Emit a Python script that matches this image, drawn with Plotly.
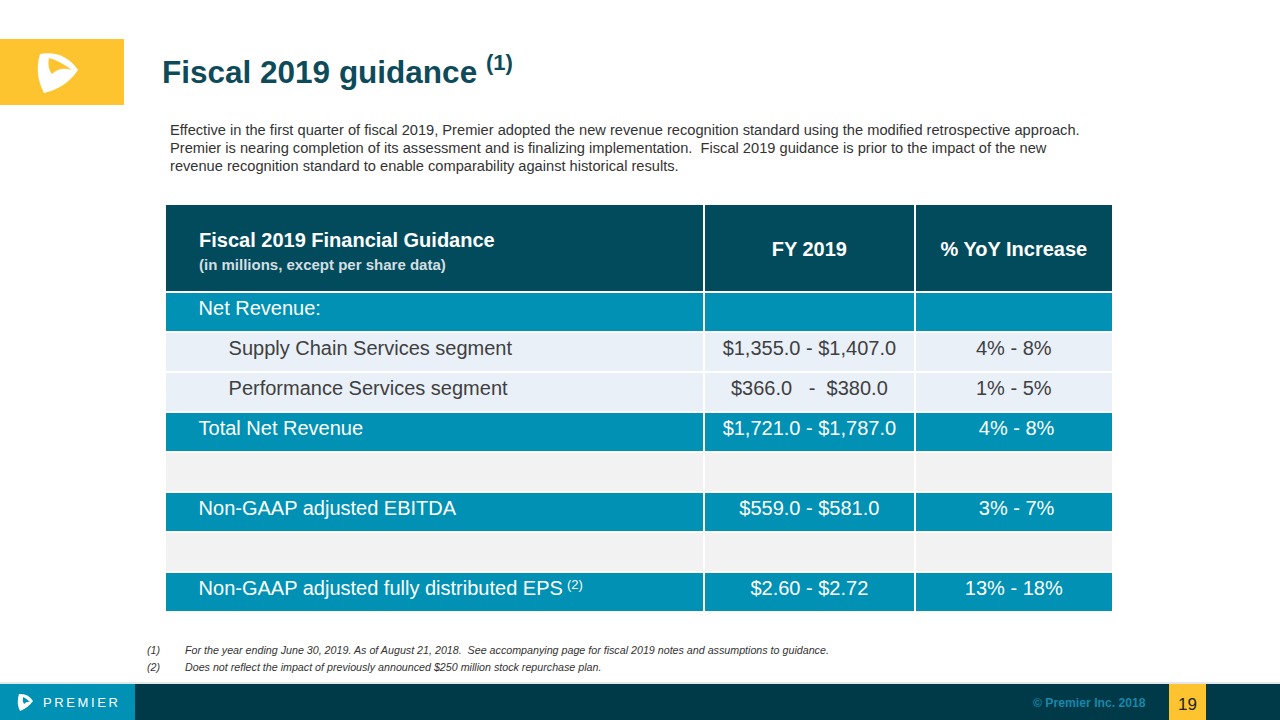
import plotly.graph_objects as go

W, H = 1280, 720

# ---------------- data ----------------
header_labels = [
    "Fiscal 2019 Financial Guidance",
    "FY 2019",
    "% YoY Increase",
]
header_sub = "(in millions, except per share data)"

row_labels = [
    "Net Revenue:",
    "Supply Chain Services segment",
    "Performance Services segment",
    "Total Net Revenue",
    "",
    "Non-GAAP adjusted EBITDA",
    "",
    "Non-GAAP adjusted fully distributed EPS",
]
row_indent = [0, 1, 1, 0, 0, 0, 0, 0]
row_note = ["", "", "", "", "", "", "", "(2)"]
fy2019_range = [
    "",
    "$1,355.0 - $1,407.0",
    "$366.0   -  $380.0",
    "$1,721.0 - $1,787.0",
    "",
    "$559.0 - $581.0",
    "",
    "$2.60 - $2.72",
]
yoy_range = ["", "4% - 8%", "1% - 5%", " 4% - 8%", "", " 3% - 7%", "", "13% - 18%"]
row_style = ["teal", "light", "light", "teal", "gray", "teal", "gray", "teal"]

title_text = "Fiscal 2019 guidance"
title_note = "(1)"
intro_lines = [
    "Effective in the first quarter of fiscal 2019, Premier adopted the new revenue recognition standard using the modified retrospective approach.",
    "Premier is nearing completion of its assessment and is finalizing implementation.  Fiscal 2019 guidance is prior to the impact of the new",
    "revenue recognition standard to enable comparability against historical results.",
]
footnote_marks = ["(1)", "(2)"]
footnotes = [
    "For the year ending June 30, 2019. As of August 21, 2018.  See accompanying page for fiscal 2019 notes and assumptions to guidance.",
    "Does not reflect the impact of previously announced $250 million stock repurchase plan.",
]
copyright_text = "© Premier Inc. 2018"
page_number = "19"
brand = "PREMIER"

# ---------------- styles ----------------
DARK = "#024B5C"
TEAL = "#0191B4"
LIGHT = "#E9F0F8"
GRAY = "#F2F2F2"
TEXT_DARK = "#3F3F3F"
TITLE = "#0E4B5A"
YELLOW = "#FDC42F"
FOOT_DARK = "#003A48"
FONT = "Liberation Sans, Arial, sans-serif"

fill_map = {"teal": TEAL, "light": LIGHT, "gray": GRAY}
font_map = {"teal": "white", "light": TEXT_DARK, "gray": TEXT_DARK}

NB = "\u00a0"


def px(x):
    return x / W


def py(y):
    return 1 - y / H


col1 = []
for lab, ind in zip(row_labels, row_indent):
    col1.append(NB * (4 if ind == 0 else 10) + "\u200a" * (2 if ind == 0 else 0) + lab if lab else "")
col2 = [v.replace(" ", NB) for v in fy2019_range]
col3 = [v.replace(" ", NB) for v in yoy_range]

fills = [fill_map[s] for s in row_style]
fcols = [font_map[s] for s in row_style]

header_vals = [
    "",
    f"{NB}<br><b>{header_labels[1]}</b>",
    f"{NB}<br><b>{header_labels[2]}</b>",
]

fig = go.Figure()
fig.add_trace(
    go.Table(
        domain=dict(x=[px(165), px(1113)], y=[py(615), py(204)]),
        columnwidth=[538, 210, 198],
        header=dict(
            values=header_vals,
            fill_color=DARK,
            line=dict(color="white", width=2),
            align=["left", "center", "center"],
            font=dict(family=FONT, size=20, color="white"),
            height=88,
        ),
        cells=dict(
            values=[col1, col2, col3],
            fill_color=[fills, fills, fills],
            line=dict(color="white", width=2),
            align=["left", "center", "center"],
            font=dict(family=FONT, size=20, color=[fcols, fcols, fcols]),
            height=40,
        ),
    )
)

shapes = []
# top-left logo box
shapes.append(dict(type="rect", xref="paper", yref="paper", x0=px(0), x1=px(124), y0=py(105), y1=py(39),
                   fillcolor=YELLOW, line=dict(width=0), layer="below"))


def path_px(points):
    p = ""
    for cmd, pts in points:
        coords = " ".join(f"{px(x):.5f},{py(y):.5f}" for x, y in pts)
        p += f"{cmd} {coords} "
    return p + "Z"


logo_outer = path_px([
    ("M", [(40, 54)]),
    ("Q", [(64, 50), (78, 70)]),
    ("Q", [(66, 88), (44, 93)]),
    ("Q", [(34, 74), (40, 54)]),
])
logo_inner = path_px([
    ("M", [(49, 58)]),
    ("Q", [(47, 68), (52, 74)]),
    ("Q", [(60, 66), (72, 70)]),
    ("Q", [(60, 61), (49, 58)]),
])
shapes.append(dict(type="path", xref="paper", yref="paper", path=logo_outer, fillcolor="white", line=dict(width=0)))
shapes.append(dict(type="path", xref="paper", yref="paper", path=logo_inner, fillcolor=YELLOW, line=dict(width=0)))

# footer
shapes.append(dict(type="line", xref="paper", yref="paper", x0=0, x1=1, y0=py(683), y1=py(683),
                   line=dict(color="#C8CED2", width=1)))
shapes.append(dict(type="rect", xref="paper", yref="paper", x0=0, x1=1, y0=py(720), y1=py(684),
                   fillcolor=FOOT_DARK, line=dict(width=0)))
shapes.append(dict(type="rect", xref="paper", yref="paper", x0=0, x1=px(135), y0=py(720), y1=py(684),
                   fillcolor=TEAL, line=dict(width=0)))
shapes.append(dict(type="rect", xref="paper", yref="paper", x0=px(1169), x1=px(1206), y0=py(720), y1=py(684),
                   fillcolor=YELLOW, line=dict(width=0)))
foot_logo = path_px([
    ("M", [(19, 694)]),
    ("Q", [(28, 693), (33, 701)]),
    ("Q", [(28, 708), (20, 711)]),
    ("Q", [(16, 703), (19, 694)]),
])
foot_inner = path_px([
    ("M", [(23, 697)]),
    ("Q", [(22, 701), (24, 704)]),
    ("Q", [(27, 701), (30, 702)]),
    ("Q", [(26, 698), (23, 697)]),
])
shapes.append(dict(type="path", xref="paper", yref="paper", path=foot_logo, fillcolor="white", line=dict(width=0)))
shapes.append(dict(type="path", xref="paper", yref="paper", path=foot_inner, fillcolor=TEAL, line=dict(width=0)))

ann = []


def text(x, y, s, size, color, anchor="left", bold=False, italic=False, yanchor="middle"):
    if bold:
        s = f"<b>{s}</b>"
    if italic:
        s = f"<i>{s}</i>"
    ann.append(dict(xref="paper", yref="paper", x=px(x), y=py(y), text=s, showarrow=False,
                    xanchor=anchor, yanchor=yanchor, font=dict(family=FONT, size=size, color=color)))


text(160, 70, f"{title_text} <sup>{title_note}</sup>", 31.5, TITLE, bold=True)
for i, line in enumerate(intro_lines):
    text(168, 130 + i * 18, line, 14.65, "#333333")
for i, (m, f) in enumerate(zip(footnote_marks, footnotes)):
    text(145, 650 + i * 17, m, 10.7, "#333333", italic=True)
    text(183, 650 + i * 17, f, 10.7, "#333333", italic=True)

# header column-1 text (two sizes)
text(197, 240, header_labels[0], 20, "white", bold=True)
text(197, 264, header_sub, 15, "#D3DEE2", bold=True)
# superscript note on the EPS row
text(565, 584, row_note[-1], 13, "white")

text(41, 702, "\u2009".join(brand), 13, "white")
text(1148, 703, copyright_text, 12.2, "#1787AA", anchor="right", bold=True)
text(1187.5, 704, page_number, 17, "#1F1F1F", anchor="center")

fig.update_layout(
    width=W, height=H,
    margin=dict(l=0, r=0, t=0, b=0),
    paper_bgcolor="white", plot_bgcolor="white",
    shapes=shapes, annotations=ann,
    xaxis=dict(visible=False), yaxis=dict(visible=False),
    showlegend=False,
)

fig.write_html("out.html", config={"displayModeBar": False},
               post_script="document.body.style.margin='0px';")
